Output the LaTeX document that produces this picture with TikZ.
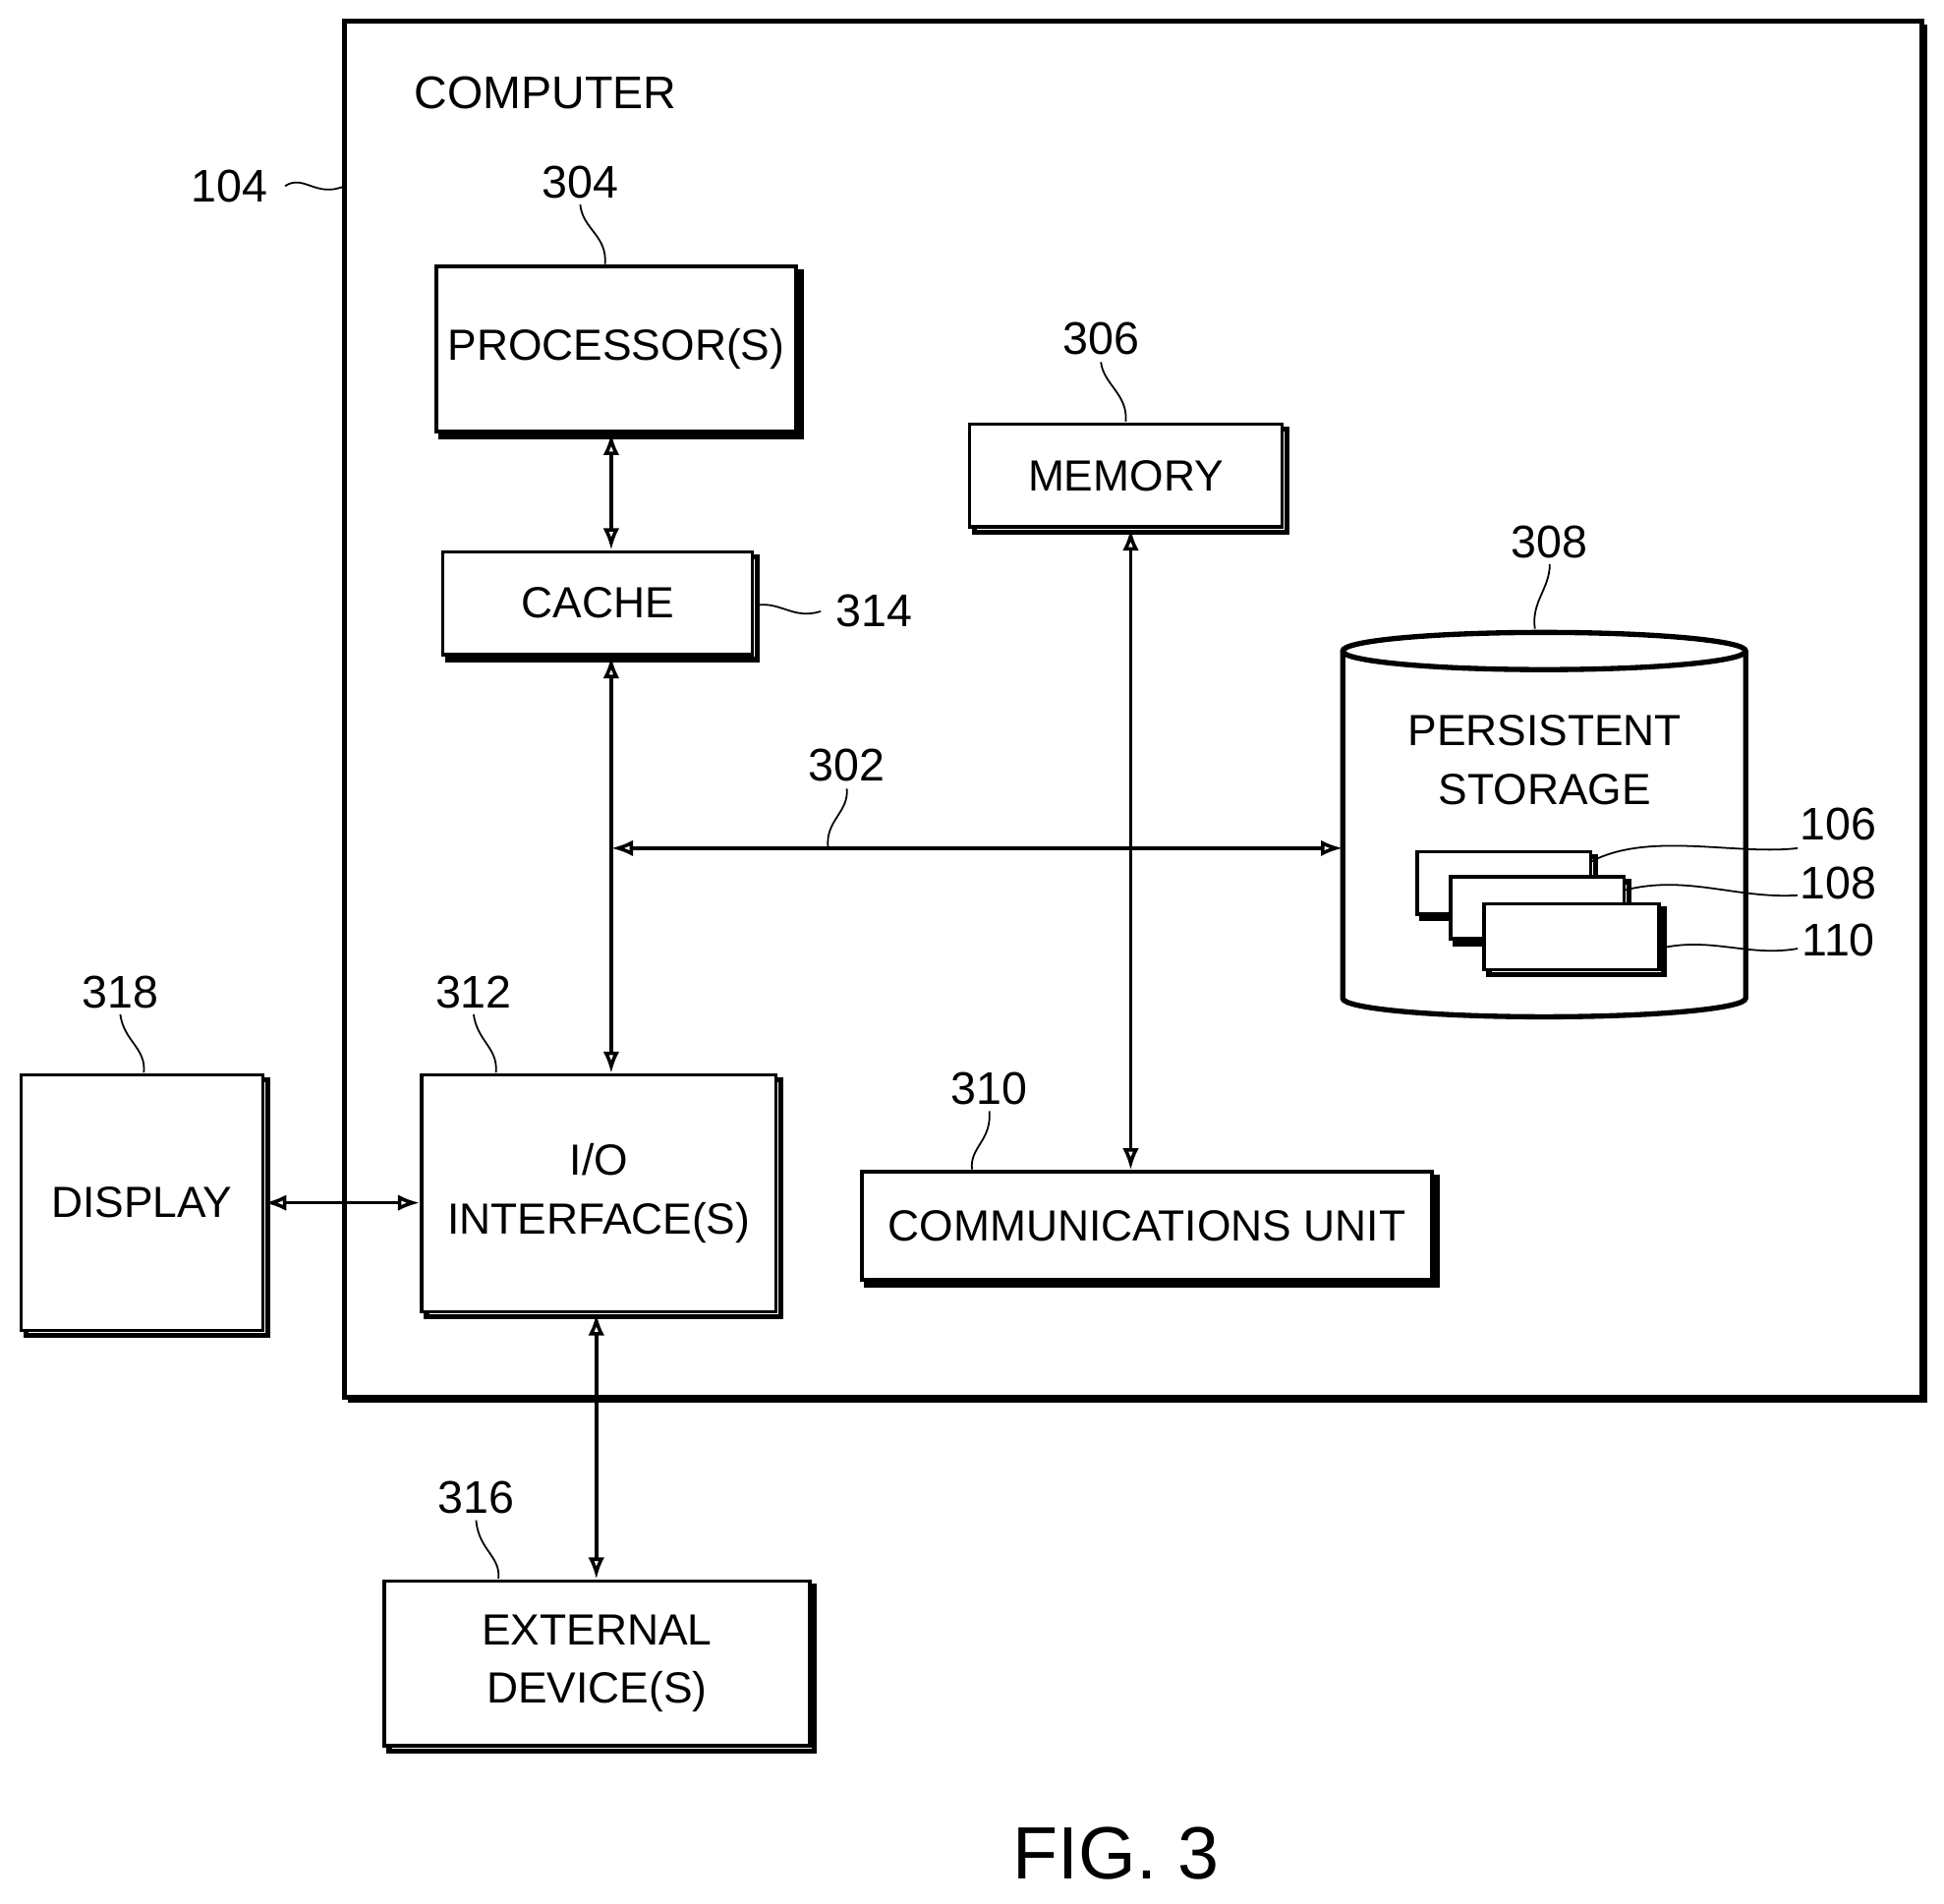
\documentclass[tikz,border=0pt]{standalone}
\usepackage{fontspec}
\setmainfont{Liberation Sans}
\usetikzlibrary{positioning,arrows.meta,calc,fit}
\tikzset{
  blk/.style={draw,thick,fill=white,align=center,inner sep=0pt,
    font=\fontsize{10}{13.5}\selectfont},
  shade/.style={draw,very thick,fill=white},
  bus/.style={{Latex[open,length=5pt]}-{Latex[open,length=5pt]},thick},
  num/.style={font=\fontsize{10.5}{13}\selectfont},
  lead/.style={thin}
}
% box with a shadow edge
\newcommand{\shbox}[4]{%
  \draw[shade] ($(#2)+(4,4)$) rectangle ($(#3)+(4,4)$);
  \node[blk,fit={(#2) (#3)}] (#1) {};
  \node[blk,draw=none,fill=none] at (#1.center) {#4};}
\begin{document}
\begin{tikzpicture}[x=0.01cm,y=-0.01cm]
  \useasboundingbox (0,0) rectangle (1568,1535);

  % Computer frame
  \draw[very thick] (278,17) rectangle (1550,1127);
  \draw[thick] (1550,21) -- (1553,21) -- (1553,1130) -- (282,1130) -- (282,1127);
  \node[num] at (440,75) {COMPUTER};
  \node[num] (n104) at (185,150) {104};
  \draw[lead] (230,150) .. controls (245,140) and (255,160) .. (278,150);

  % Blocks
  \shbox{proc}{352,215}{642,348}{PROCESSOR(S)}
  \shbox{cache}{357,445}{607,528}{CACHE}
  \shbox{mem}{782,342}{1034,425}{MEMORY}
  \shbox{io}{340,867}{626,1058}{I/O\\INTERFACE(S)}
  \shbox{disp}{17,867}{212,1073}{DISPLAY}
  \shbox{comm}{695,945}{1155,1032}{COMMUNICATIONS UNIT}
  \shbox{ext}{310,1275}{653,1408}{EXTERNAL\\DEVICE(S)}

  % Persistent storage
  \draw[very thick,fill=white] (1083,525) -- (1083,805) arc(180:0:162.5 and 15)
    -- (1408,525) arc(0:-180:162.5 and 15) -- cycle;
  \draw[very thick] (1083,525) arc(180:0:162.5 and 15);
  \node[blk,draw=none,fill=none] (stor) at (1246,613) {PERSISTENT\\STORAGE};
  \coordinate (storw) at (1083,684);
  \shbox{f106}{1143,687}{1283,737}{}
  \shbox{f108}{1170,707}{1310,757}{}
  \shbox{f110}{1197,729}{1338,782}{}

  % Reference numbers
  \node[num] at (468,147) {304};
  \draw[lead] (468,165) .. controls (470,185) and (490,190) .. (488,213);
  \node[num] at (705,493) {314};
  \draw[lead] (610,488) .. controls (630,485) and (640,500) .. (662,493);
  \node[num] at (888,273) {306};
  \draw[lead] (888,292) .. controls (890,310) and (910,318) .. (908,340);
  \node[num] at (1250,437) {308};
  \draw[lead] (1250,455) .. controls (1250,475) and (1235,485) .. (1238,507);
  \node[num] at (683,617) {302};
  \draw[lead] (683,636) .. controls (685,655) and (665,662) .. (668,684);
  \node[num] at (382,800) {312};
  \draw[lead] (382,818) .. controls (385,840) and (402,845) .. (400,865);
  \node[num] at (97,800) {318};
  \draw[lead] (97,818) .. controls (100,840) and (118,845) .. (116,865);
  \node[num] at (798,878) {310};
  \draw[lead] (798,896) .. controls (800,920) and (782,925) .. (784,943);
  \node[num] at (384,1208) {316};
  \draw[lead] (384,1226) .. controls (386,1250) and (404,1255) .. (402,1273);
  \node[num] at (1483,665) {106};
  \draw[lead] (1283,695) .. controls (1330,670) and (1400,690) .. (1450,684);
  \node[num] at (1483,712) {108};
  \draw[lead] (1310,718) .. controls (1360,705) and (1400,725) .. (1450,722);
  \node[num] at (1483,758) {110};
  \draw[lead] (1338,765) .. controls (1380,755) and (1410,772) .. (1450,765);

  % Connectors
  \coordinate (busw) at (493,684);
  \draw[bus] (busw) -- (storw);
  \draw[bus] (proc.south -| 493,0) -- (cache.north -| 493,0);
  \draw[bus] (cache.south -| 493,0) -- (io.north -| 493,0);
  \draw[bus] (mem.south -| 912,0) -- (comm.north -| 912,0);
  \draw[bus] (disp.east |- 0,970) -- (io.west |- 0,970);
  \draw[bus] (io.south -| 481,0) -- (ext.north -| 481,0);

  \node[font=\fontsize{17}{20}\selectfont] at (900,1495) {FIG. 3};
\end{tikzpicture}
\end{document}
